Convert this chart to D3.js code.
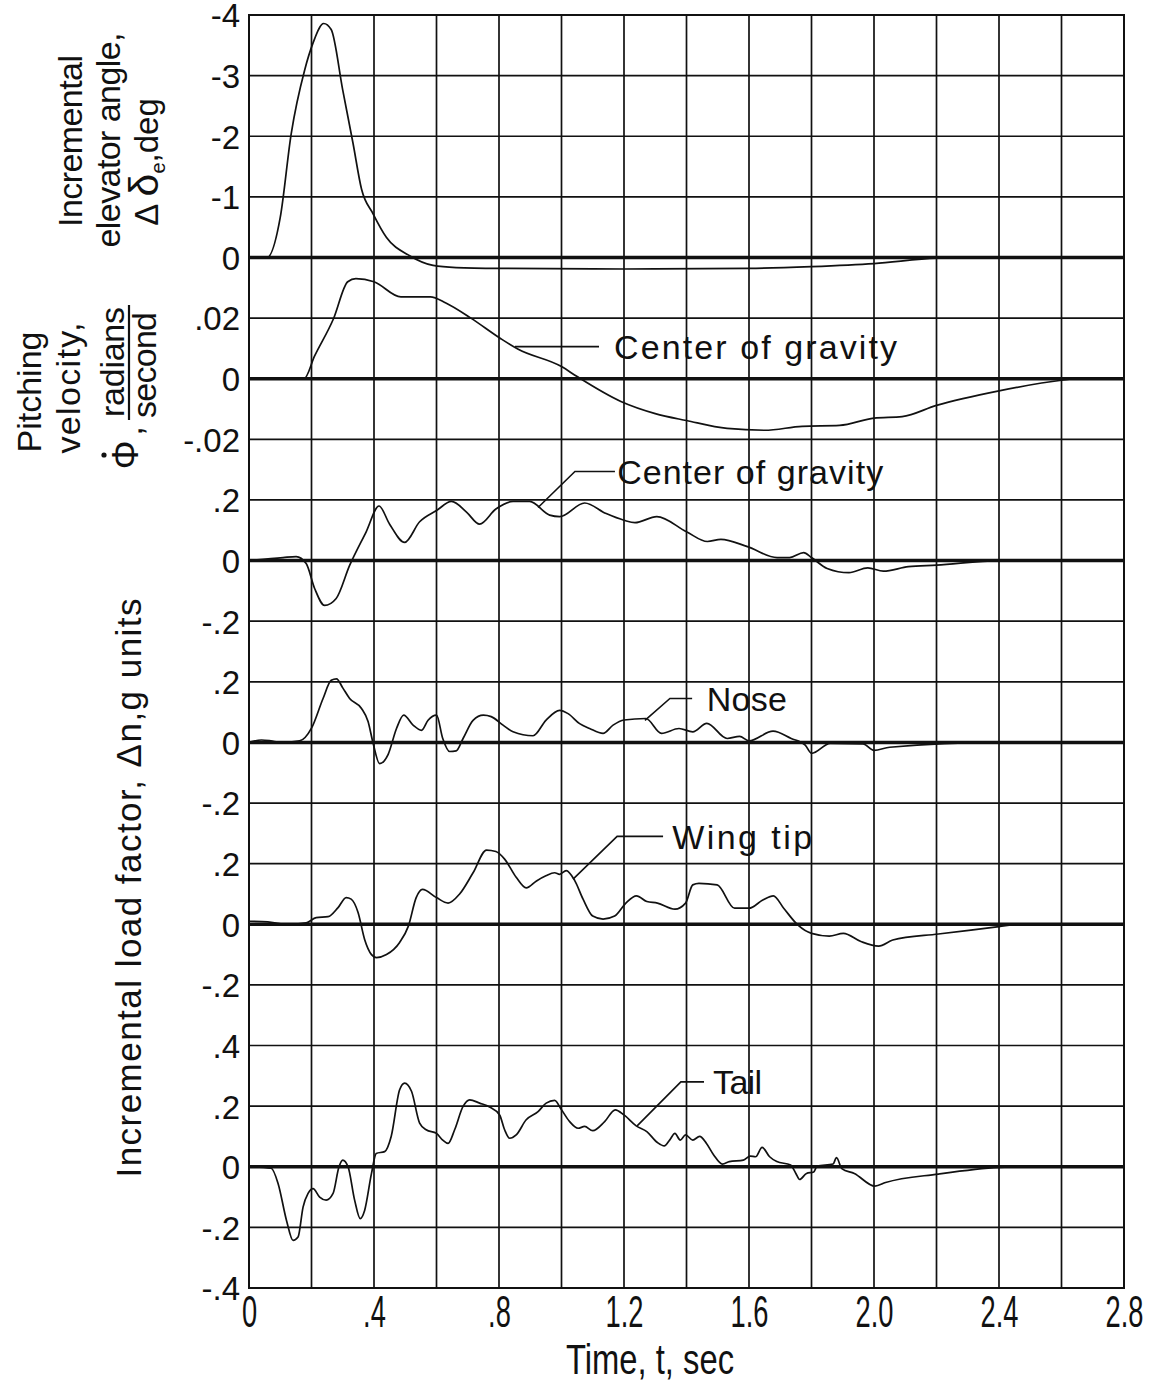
<!DOCTYPE html>
<html>
<head>
<meta charset="utf-8">
<title>Elevator pulse response</title>
<script src="https://d3js.org/d3.v7.min.js"></script>
<style>
body { margin: 0; background: #fff; }
text { font-family: "Liberation Sans", Arial, sans-serif; fill: #111; }
.grid line { stroke: #111; stroke-width: 1.7; }
.grid line.zero { stroke-width: 3.6; }
.curve { fill: none; stroke: #111; stroke-width: 1.7; stroke-linejoin: round; }
.leader { fill: none; stroke: #111; stroke-width: 1.6; }
</style>
</head>
<body>
<svg id="chart" width="1161" height="1391"></svg>
<script>
// ---- data ----
var timeTicks = [0, 0.4, 0.8, 1.2, 1.6, 2.0, 2.4, 2.8];
var timeTickLabels = ["0", ".4", ".8", "1.2", "1.6", "2.0", "2.4", "2.8"];

// one label per horizontal grid line, top to bottom
var rowLabels = ["-4", "-3", "-2", "-1", "0", ".02", "0", "-.02", ".2", "0", "-.2",
                 ".2", "0", "-.2", ".2", "0", "-.2", ".4", ".2", "0", "-.2", "-.4"];
var zeroRows = [4, 6, 9, 12, 15, 19];

// [time sec, value]
var elevator = [[0,0],[0.058,0],[0.10,-0.66],[0.135,-2.04],[0.178,-3.09],[0.205,-3.54],[0.239,-3.86],
  [0.263,-3.76],[0.30,-2.76],[0.333,-1.88],[0.36,-1.13],[0.397,-0.72],[0.44,-0.33],[0.514,-0.03],
  [0.589,0.13],[0.663,0.166],[0.8,0.18],[1.2,0.19],[1.6,0.18],[1.8,0.15],[2.0,0.1],[2.2,0.01],[2.3,0],[2.8,0]];

var pitch = [[0,0],[0.176,0],[0.21,0.0075],[0.27,0.0197],[0.316,0.032],[0.342,0.033],[0.40,0.032],
  [0.486,0.027],[0.58,0.027],[0.63,0.025],[0.71,0.020],[0.806,0.0132],[0.86,0.0098],[1.0,0.004],
  [1.05,0.0007],[1.19,-0.0075],[1.30,-0.0115],[1.40,-0.0138],[1.53,-0.0164],[1.65,-0.017],
  [1.77,-0.0157],[1.89,-0.0154],[2.0,-0.013],[2.09,-0.0125],[2.2,-0.0088],[2.4,-0.004],
  [2.6,-0.0005],[2.65,0],[2.8,0]];

var cgLoad = [[0,0],[0.109,0.01],[0.151,0.013],[0.183,-0.01],[0.21,-0.092],[0.242,-0.148],
  [0.279,-0.125],[0.322,-0.016],[0.375,0.095],[0.416,0.18],[0.45,0.12],[0.498,0.06],[0.546,0.128],
  [0.6,0.165],[0.648,0.195],[0.696,0.16],[0.738,0.12],[0.79,0.17],[0.845,0.195],[0.898,0.195],
  [0.962,0.15],[0.994,0.145],[1.074,0.19],[1.143,0.155],[1.2,0.133],[1.235,0.125],[1.305,0.145],
  [1.4,0.095],[1.467,0.063],[1.51,0.07],[1.595,0.046],[1.69,0.01],[1.73,0.01],[1.775,0.026],
  [1.8,0.01],[1.85,-0.026],[1.92,-0.04],[1.98,-0.024],[2.03,-0.035],[2.11,-0.02],[2.2,-0.015],
  [2.4,0],[2.8,0]];

var noseLoad = [[0,0],[0.04,0.008],[0.07,0.005],[0.1,0],[0.162,0.005],[0.2,0.047],[0.237,0.145],
  [0.263,0.205],[0.28,0.21],[0.30,0.18],[0.322,0.145],[0.36,0.112],[0.381,0.069],[0.397,-0.002],
  [0.418,-0.07],[0.445,-0.04],[0.472,0.046],[0.495,0.09],[0.525,0.057],[0.552,0.04],[0.573,0.073],
  [0.6,0.09],[0.62,0.013],[0.642,-0.03],[0.663,-0.028],[0.685,0.013],[0.717,0.073],[0.75,0.09],
  [0.775,0.085],[0.813,0.057],[0.845,0.035],[0.909,0.022],[0.95,0.073],[0.994,0.106],[1.021,0.095],
  [1.058,0.062],[1.09,0.046],[1.133,0.03],[1.165,0.057],[1.2,0.074],[1.27,0.079],[1.32,0.03],
  [1.376,0.046],[1.42,0.035],[1.465,0.063],[1.53,0.013],[1.57,0.02],[1.6,0.005],[1.677,0.037],
  [1.735,0.013],[1.78,-0.009],[1.8,-0.036],[1.86,-0.003],[1.965,-0.005],[2.0,-0.026],[2.05,-0.016],
  [2.4,0],[2.8,0]];

var wingLoad = [[0,0.01],[0.06,0.008],[0.12,0],[0.183,0.005],[0.215,0.022],[0.253,0.025],[0.285,0.055],
  [0.311,0.088],[0.327,0.083],[0.349,0.039],[0.37,-0.05],[0.392,-0.1],[0.408,-0.11],[0.44,-0.1],
  [0.482,-0.06],[0.51,-0.006],[0.535,0.088],[0.555,0.115],[0.6,0.088],[0.637,0.07],[0.674,0.1],
  [0.717,0.17],[0.76,0.245],[0.79,0.24],[0.818,0.215],[0.855,0.155],[0.887,0.12],[0.92,0.143],
  [0.95,0.16],[0.978,0.17],[0.994,0.165],[1.015,0.177],[1.042,0.145],[1.069,0.083],[1.1,0.027],
  [1.133,0.017],[1.17,0.027],[1.206,0.07],[1.24,0.094],[1.273,0.075],[1.307,0.07],[1.363,0.05],
  [1.397,0.07],[1.42,0.13],[1.44,0.135],[1.498,0.13],[1.554,0.053],[1.6,0.053],[1.644,0.08],
  [1.678,0.094],[1.711,0.053],[1.756,-0.002],[1.8,-0.03],[1.857,-0.039],[1.902,-0.03],
  [1.958,-0.057],[2.015,-0.072],[2.06,-0.052],[2.206,-0.032],[2.4,-0.008],[2.46,0],[2.8,0]];

var tailLoad = [[0,0],[0.071,-0.005],[0.093,-0.055],[0.12,-0.177],[0.141,-0.243],[0.157,-0.232],
  [0.173,-0.133],[0.189,-0.088],[0.205,-0.072],[0.226,-0.1],[0.247,-0.11],[0.269,-0.088],[0.288,0],
  [0.3,0.022],[0.317,0],[0.338,-0.11],[0.356,-0.171],[0.37,-0.144],[0.392,-0.022],[0.407,0.044],
  [0.434,0.05],[0.455,0.1],[0.482,0.254],[0.498,0.276],[0.52,0.249],[0.546,0.144],[0.567,0.122],
  [0.6,0.11],[0.62,0.088],[0.637,0.077],[0.658,0.122],[0.685,0.199],[0.706,0.221],[0.738,0.21],
  [0.77,0.197],[0.802,0.171],[0.818,0.122],[0.834,0.094],[0.855,0.105],[0.887,0.155],[0.925,0.182],
  [0.951,0.21],[0.978,0.219],[1.0,0.188],[1.026,0.149],[1.053,0.127],[1.074,0.133],[1.1,0.119],
  [1.138,0.149],[1.172,0.188],[1.2,0.171],[1.239,0.135],[1.273,0.116],[1.307,0.08],[1.329,0.069],
  [1.346,0.088],[1.363,0.11],[1.38,0.088],[1.397,0.105],[1.42,0.088],[1.442,0.1],[1.464,0.077],
  [1.487,0.039],[1.515,0.009],[1.537,0.017],[1.582,0.022],[1.604,0.035],[1.621,0.033],[1.642,0.064],
  [1.666,0.033],[1.689,0.017],[1.733,0.006],[1.75,-0.022],[1.762,-0.042],[1.784,-0.022],
  [1.807,-0.017],[1.818,0.002],[1.869,0.009],[1.88,0.03],[1.897,-0.006],[1.937,-0.022],
  [2.003,-0.064],[2.037,-0.052],[2.206,-0.024],[2.4,-0.002],[2.46,0],[2.8,0]];

// leader polylines [t, v] and label anchor [t, v]
var pitchNote = {text: "Center of gravity", leader: [[0.851,0.0106],[1.12,0.0106]], at: [1.168,0.0106], len: 283};
var cgNote = {text: "Center of gravity", leader: [[0.925,0.175],[1.043,0.294],[1.171,0.294]], at: [1.178,0.294], len: 266};
var noseNote = {text: "Nose", leader: [[1.267,0.073],[1.347,0.145],[1.418,0.145]], at: [1.465,0.145], len: 80};
var wingNote = {text: "Wing tip", leader: [[1.037,0.149],[1.178,0.29],[1.325,0.29]], at: [1.354,0.29], len: 140};
var tailNote = {text: "Tail", leader: [[1.242,0.135],[1.382,0.28],[1.456,0.28]], at: [1.485,0.28], len: 49};

// ---- layout ----
var svg = d3.select("#chart");
var plotLeft = 249, plotRight = 1124, plotTop = 15, plotBottom = 1288;

var x = d3.scaleLinear().domain([0, 2.8]).range([plotLeft, plotRight]);
var row = d3.scaleLinear().domain([0, rowLabels.length - 1]).range([plotTop, plotBottom]);

// each panel: zero grid row and value per grid step (a negative step plots upwards)
function panelScale(zero, step) {
  return d3.scaleLinear().domain([0, step]).range([row(zero), row(zero - 1)]);
}
var panels = [
  {data: elevator, y: panelScale(4, -1)},
  {data: pitch, y: panelScale(6, 0.02), note: pitchNote},
  {data: cgLoad, y: panelScale(9, 0.2), note: cgNote},
  {data: noseLoad, y: panelScale(12, 0.2), note: noseNote},
  {data: wingLoad, y: panelScale(15, 0.2), note: wingNote},
  {data: tailLoad, y: panelScale(19, 0.2), note: tailNote}
];

// grid
var grid = svg.append("g").attr("class", "grid");
grid.selectAll("line.v")
  .data(x.ticks(14))
  .enter().append("line")
  .attr("x1", function(d) { return x(d); })
  .attr("x2", function(d) { return x(d); })
  .attr("y1", plotTop).attr("y2", plotBottom);
grid.selectAll("line.h")
  .data(d3.range(rowLabels.length))
  .enter().append("line")
  .attr("class", function(d) { return zeroRows.indexOf(d) >= 0 ? "zero" : null; })
  .attr("x1", plotLeft).attr("x2", plotRight)
  .attr("y1", function(d) { return row(d); })
  .attr("y2", function(d) { return row(d); });
svg.append("rect")
  .attr("x", plotLeft).attr("y", plotTop)
  .attr("width", plotRight - plotLeft).attr("height", plotBottom - plotTop)
  .attr("fill", "none").attr("stroke", "#111").attr("stroke-width", 2);

// axes
var yAxis = svg.append("g")
  .attr("transform", "translate(" + plotLeft + ",0)")
  .call(d3.axisLeft(row).tickValues(d3.range(rowLabels.length))
    .tickFormat(function(d) { return rowLabels[d]; }).tickSize(0).tickPadding(9));
yAxis.select(".domain").remove();
yAxis.selectAll("text").attr("dy", "0.36em").attr("fill", "#111")
  .style("font-size", "33px").style("font-family", "'Liberation Sans', Arial, sans-serif");

var xAxis = svg.append("g")
  .attr("transform", "translate(0," + plotBottom + ")")
  .call(d3.axisBottom(x).tickValues(timeTicks)
    .tickFormat(function(d, i) { return timeTickLabels[i]; }).tickSize(0));
xAxis.select(".domain").remove();
xAxis.selectAll("text").attr("y", 39).attr("dy", 0).attr("fill", "#111")
  .attr("transform", "scale(0.62,1)")
  .style("font-size", "44px").style("font-family", "'Liberation Sans', Arial, sans-serif");

svg.append("text")
  .attr("transform", "translate(650,1374) scale(0.78,1)")
  .attr("text-anchor", "middle")
  .style("font-size", "42px")
  .text("Time, t, sec");

// curves
panels.forEach(function(p) {
  var line = d3.line().curve(d3.curveMonotoneX)
    .x(function(d) { return x(d[0]); })
    .y(function(d) { return p.y(d[1]); });
  svg.append("path").attr("class", "curve").attr("d", line(p.data));
  if (p.note) {
    var lead = d3.line().x(function(d) { return x(d[0]); }).y(function(d) { return p.y(d[1]); });
    svg.append("path").attr("class", "leader").attr("d", lead(p.note.leader));
    svg.append("text")
      .attr("x", x(p.note.at[0]))
      .attr("y", p.y(p.note.at[1]))
      .attr("dy", "0.36em")
      .attr("textLength", p.note.len)
      .attr("lengthAdjust", "spacing")
      .style("font-size", "34px")
      .text(p.note.text);
  }
});

// rotated axis titles (xb = baseline position, yc = centre)
function vtext(xb, yc, size, str, len) {
  var t = svg.append("text")
    .attr("transform", "translate(" + xb + "," + yc + ") rotate(-90)")
    .attr("text-anchor", "middle")
    .style("font-size", size + "px")
    .text(str);
  if (len) t.attr("textLength", len).attr("lengthAdjust", "spacing");
  return t;
}

vtext(82, 141, 34, "Incremental", 172);
vtext(120, 140, 34, "elevator angle,", 215);
var el = svg.append("text")
  .attr("transform", "translate(158,162) rotate(-90)")
  .attr("text-anchor", "middle")
  .style("font-size", "33px");
el.append("tspan").text("\u0394 ");
el.append("tspan").style("font-size", "41px").text("\u03b4");
el.append("tspan").style("font-size", "20px").attr("dy", 7).text("e");
el.append("tspan").attr("dy", -7).text(",deg");

vtext(41, 392, 34, "Pitching", 121);
vtext(80, 388, 34, "velocity,", 131);
vtext(138, 455, 36, "\u03a6");
svg.append("circle").attr("cx", 104).attr("cy", 455).attr("r", 2.6).attr("fill", "#111");
vtext(142, 431, 34, ",");
vtext(124, 362, 34, "radians", 110);
svg.append("line").attr("x1", 129).attr("x2", 129).attr("y1", 305).attr("y2", 420)
  .attr("stroke", "#111").attr("stroke-width", 2.2);
vtext(156, 365, 34, "second", 106);

vtext(141, 888, 35, "Incremental load factor, \u0394n,g units", 579);
</script>
</body>
</html>
